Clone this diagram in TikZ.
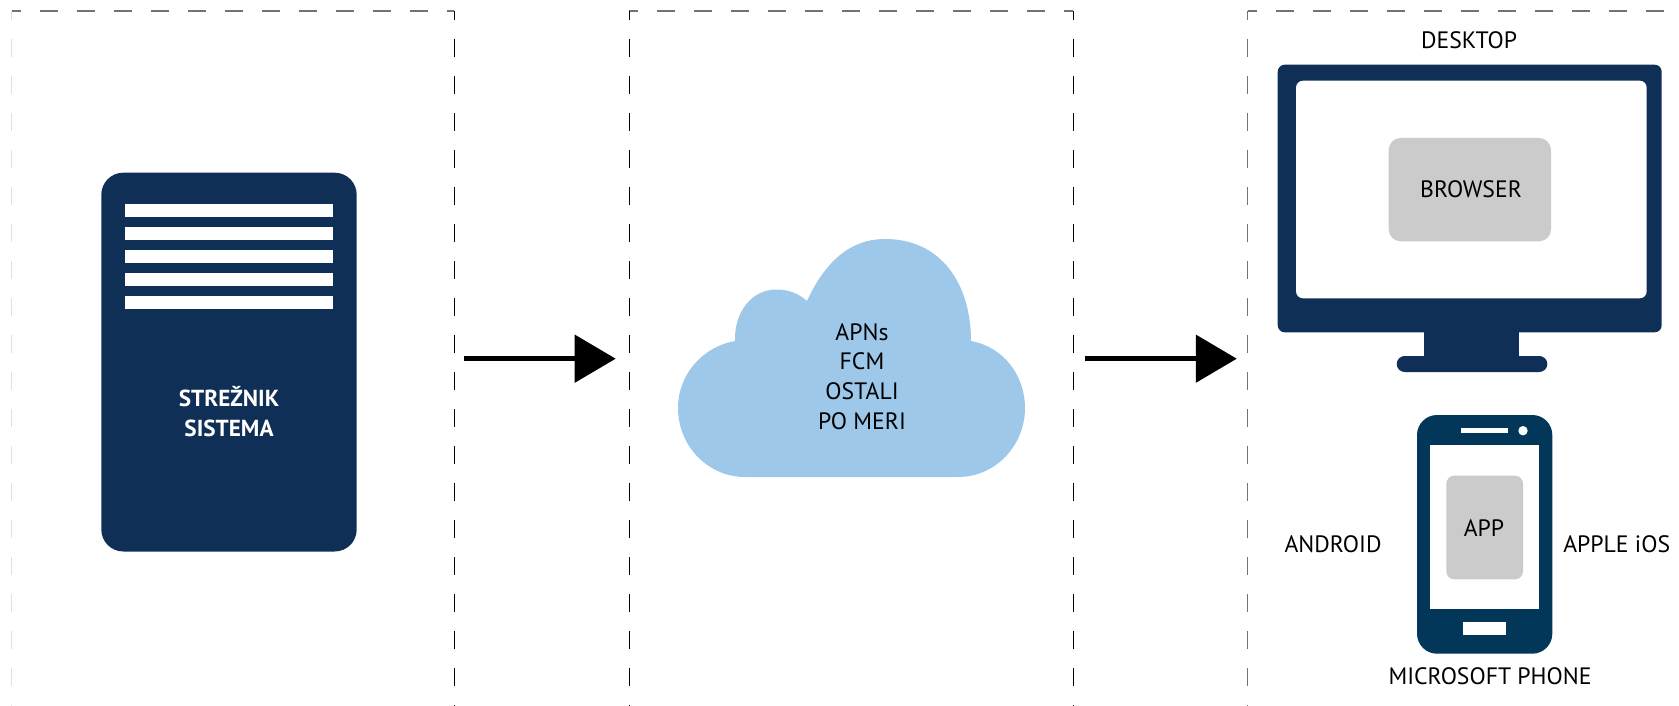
\documentclass[tikz,border=0pt]{standalone}
\usepackage{fontspec}
\setmainfont{PT Sans}
\usetikzlibrary{arrows.meta}
\definecolor{navy}{HTML}{0F2F57}
\definecolor{phoneblue}{HTML}{03375A}
\definecolor{cloudblue}{HTML}{9DC8EA}
\definecolor{panelgray}{HTML}{CBCBCB}
\tikzset{
  x=1pt,y=-1pt,
  lab/.style={inner sep=0pt,font=\fontsize{23.7}{29.6}\selectfont,text=black,align=center},
  srvlab/.style={inner sep=0pt,font=\fontsize{23.2}{30}\selectfont\bfseries,text=white,align=center},
  frameh/.style={draw=black!55,line width=1.4pt,dash pattern=on 18pt off 19pt,dash phase=9pt},
  framev/.style={draw=black,line width=1pt,dash pattern=on 18pt off 19pt,dash phase=9pt},
  framegray/.style={draw=black!55,line width=1.4pt,dash pattern=on 18pt off 19pt,dash phase=9pt},
  framefaint/.style={draw=black!12,line width=1.2pt,dash pattern=on 18pt off 19pt,dash phase=9pt},
  flow/.style={line width=5pt,-{Triangle[length=41pt,width=47pt]}},
  navyfill/.style={fill=navy,draw=none},
  whitefill/.style={fill=white,draw=none},
  phonefill/.style={fill=phoneblue,draw=none},
  panel/.style={fill=panelgray,draw=none}
}
\begin{document}
\begin{tikzpicture}
\useasboundingbox (0,0) rectangle (1679,706);
% frames
\draw[frameh] (11.5,11) -- (454,11);
\draw[framefaint] (11.5,11) -- (11.5,706);
\draw[framev] (454,11) -- (454,706);
\draw[frameh] (629,11) -- (1073,11);
\draw[framev] (629,11) -- (629,706);
\draw[framev] (1073,11) -- (1073,706);
\draw[frameh] (1247.7,11) -- (1664,11);
\draw[framegray] (1247.7,11) -- (1247.7,706);
% server
\path[navyfill,rounded corners=22pt] (101.3,172.7) rectangle (356.7,551.5);
\foreach \yy in {203.5,226.7,249.7,272.9,296}{
  \path[whitefill] (125,\yy) rectangle (333,\yy+13);
}
\node[srvlab] (server) at (229,412) {STREŽNIK\\SISTEMA};
% cloud
\path[fill=cloudblue] (735,341)
  .. controls (702,347) and (678,375) .. (678,408)
  .. controls (678,446) and (708,477) .. (745,477)
  -- (958,477)
  .. controls (996,477) and (1025,445) .. (1025,408)
  .. controls (1025,376) and (1004,347) .. (971,341)
  .. controls (971,285) and (942,239) .. (885,239)
  .. controls (850,239) and (825,262) .. (807,301)
  .. controls (798,293) and (788,289.5) .. (776,289.5)
  .. controls (752,289.5) and (734,312) .. (735,341) -- cycle;
\node[lab] (cloud) at (862,376.5) {APNs\\FCM\\OSTALI\\PO MERI};
% arrows
\coordinate (a1s) at (463.7,358.7);
\coordinate (a1e) at (615.7,358.7);
\coordinate (a2s) at (1084.7,358.7);
\coordinate (a2e) at (1236.8,358.7);
\draw[flow] (a1s) -- (a1e);
\draw[flow] (a2s) -- (a2e);
% monitor
\path[navyfill,rounded corners=7pt] (1277.7,64.7) rectangle (1661.7,332.3);
\path[navyfill] (1424,330) rectangle (1519.3,358);
\path[navyfill,rounded corners=8pt] (1396.7,356) rectangle (1547.3,372);
\path[whitefill,rounded corners=7pt] (1296,80.7) rectangle (1646.7,298.3);
\path[panel,rounded corners=12pt] (1388.7,138) rectangle (1551,241.3);
\node[lab] (browser) at (1471,189) {BROWSER};
\node[lab] (desktop) at (1469,40.7) {DESKTOP};
% phone
\path[phonefill,rounded corners=20pt] (1417,415) rectangle (1552.3,653.7);
\path[whitefill] (1429.7,444.7) rectangle (1539,608.7);
\path[whitefill] (1461,428) rectangle (1507.7,433.3);
\path[whitefill] (1523,430.7) circle[radius=4.7];
\path[whitefill] (1463,622) rectangle (1506,635.3);
\path[panel,rounded corners=8pt] (1446.3,475.7) rectangle (1523,579.3);
\node[lab] (app) at (1484,528.3) {APP};
\node[lab] (android) at (1333,544) {ANDROID};
\node[lab] (ios) at (1616.7,544) {APPLE iOS};
\node[lab] (msphone) at (1490,676) {MICROSOFT PHONE};
\end{tikzpicture}
\end{document}
